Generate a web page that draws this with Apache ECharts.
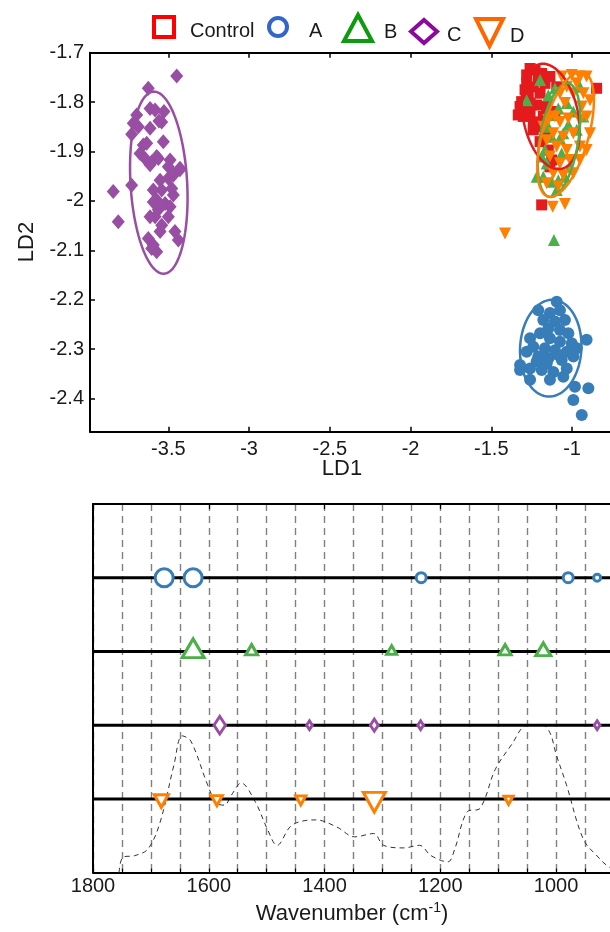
<!DOCTYPE html>
<html>
<head>
<meta charset="utf-8">
<script src="https://cdn.jsdelivr.net/npm/echarts@6/dist/echarts.min.js"></script>
<style>html,body{margin:0;padding:0;background:#fff}#c{width:610px;height:932px}</style>
</head>
<body>
<div id="c"></div>
<script>
// ---------- DATA: LDA scores (LD1, LD2) ----------
const ldControl = [[-1.260,-1.732],[-1.229,-1.735],[-1.188,-1.742],[-1.137,-1.748],[-1.281,-1.762],[-1.240,-1.769],[-1.168,-1.762],[-1.198,-1.782],[-1.271,-1.786],[-1.312,-1.799],[-1.333,-1.826],[-1.302,-1.829],[-1.260,-1.819],[-1.219,-1.806],[-1.157,-1.809],[-1.322,-1.809],[-1.240,-1.840],[-1.188,-1.850],[-1.157,-1.870],[-1.198,-1.880],[-1.147,-1.897],[-1.126,-1.917],[-0.848,-1.772],[-1.188,-2.008],[-1.281,-1.745],[-1.209,-1.755],[-1.260,-1.802],[-1.178,-1.829],[-1.106,-1.819],[-1.095,-1.769],[-1.240,-1.856],[-1.137,-1.931],[-1.291,-1.775]];
const ldA = [[-1.095,-2.204],[-1.209,-2.221],[-1.137,-2.227],[-1.075,-2.221],[-1.178,-2.241],[-1.106,-2.244],[-1.044,-2.241],[-1.147,-2.258],[-1.075,-2.261],[-1.023,-2.268],[-1.198,-2.268],[-1.260,-2.278],[-1.137,-2.278],[-1.075,-2.285],[-1.002,-2.288],[-0.910,-2.281],[-1.240,-2.295],[-1.168,-2.298],[-1.106,-2.302],[-1.033,-2.305],[-1.209,-2.315],[-1.147,-2.319],[-1.064,-2.322],[-0.992,-2.315],[-1.322,-2.342],[-1.260,-2.339],[-1.188,-2.342],[-1.116,-2.346],[-1.260,-2.362],[-1.137,-2.362],[-1.054,-2.356],[-0.982,-2.376],[-0.899,-2.379],[-0.992,-2.403],[-0.940,-2.433],[-1.281,-2.305],[-1.157,-2.329],[-1.085,-2.312],[-1.033,-2.339],[-1.219,-2.325],[-0.971,-2.298],[-1.322,-2.332]];
const ldB = [[-1.281,-1.796],[-1.147,-1.786],[-1.106,-1.772],[-1.085,-1.813],[-1.106,-1.826],[-1.033,-1.802],[-0.992,-1.819],[-1.023,-1.846],[-1.054,-1.863],[-1.075,-1.873],[-1.126,-1.870],[-1.168,-1.897],[-1.188,-1.910],[-1.157,-1.924],[-1.178,-1.951],[-1.219,-1.951],[-1.085,-1.958],[-1.044,-1.951],[-1.095,-1.978],[-1.013,-1.931],[-1.064,-1.904],[-0.971,-1.856],[-0.951,-1.769],[-1.147,-1.850],[-1.112,-2.079],[-0.930,-1.829],[-1.198,-1.755],[-1.126,-1.961]];
const ldC = [[-3.448,-1.747],[-3.624,-1.772],[-3.613,-1.813],[-3.582,-1.816],[-3.527,-1.819],[-3.696,-1.826],[-3.558,-1.838],[-3.686,-1.850],[-3.613,-1.853],[-3.727,-1.865],[-3.531,-1.880],[-3.634,-1.883],[-3.675,-1.904],[-3.644,-1.914],[-3.603,-1.921],[-3.562,-1.914],[-3.489,-1.917],[-3.500,-1.931],[-3.428,-1.934],[-3.613,-1.927],[-3.841,-1.981],[-3.727,-1.968],[-3.551,-1.958],[-3.500,-1.954],[-3.469,-1.948],[-3.593,-1.978],[-3.541,-1.978],[-3.469,-1.988],[-3.572,-1.998],[-3.520,-2.005],[-3.489,-2.012],[-3.562,-2.018],[-3.582,-2.032],[-3.500,-2.032],[-3.810,-2.042],[-3.613,-2.032],[-3.541,-2.049],[-3.551,-2.062],[-3.459,-2.062],[-3.624,-2.076],[-3.438,-2.079],[-3.593,-2.089],[-3.572,-2.103],[-3.603,-2.096],[-3.541,-1.840],[-3.717,-1.843],[-3.655,-1.887],[-3.572,-1.910],[-3.428,-1.937],[-3.593,-2.002],[-3.479,-1.975]];
const ldD = [[-1.064,-1.748],[-1.002,-1.745],[-0.951,-1.748],[-0.910,-1.748],[-0.971,-1.762],[-1.033,-1.769],[-1.075,-1.782],[-0.992,-1.782],[-0.930,-1.782],[-0.889,-1.796],[-1.044,-1.802],[-1.106,-1.829],[-1.147,-1.836],[-1.075,-1.840],[-1.023,-1.833],[-0.951,-1.836],[-0.910,-1.829],[-1.116,-1.863],[-1.054,-1.870],[-0.992,-1.863],[-1.157,-1.877],[-1.095,-1.890],[-1.033,-1.897],[-0.951,-1.890],[-1.137,-1.910],[-1.075,-1.924],[-1.013,-1.917],[-0.951,-1.917],[-1.116,-1.944],[-1.054,-1.948],[-0.992,-1.944],[-0.910,-1.897],[-1.120,-2.012],[-1.044,-2.006],[-1.415,-2.066],[-1.157,-1.964],[-1.085,-1.971],[-0.889,-1.863],[-1.178,-1.850],[-0.940,-1.809]];

// Confidence ellipses: [centreLD1, centreLD2, axis1 dLD1, axis1 dLD2, axis2 dLD1, axis2 dLD2]
const ellControl = [-1.132,-1.829,-0.066,0.106,0.167,0.011];
const ellA = [-1.132,-2.298,0.010,0.098,0.190,0.000];
const ellB = [-1.081,-1.877,0.058,0.115,0.118,-0.006];
const ellC = [-3.559,-1.963,-0.020,0.184,0.177,-0.010];
const ellD = [-1.040,-1.865,0.109,0.126,0.137,-0.013];

const ld1Ticks = [-3.5,-3,-2.5,-2,-1.5,-1,-0.5];
const ld2Ticks = [-1.7,-1.8,-1.9,-2,-2.1,-2.2,-2.3,-2.4];
const wnLabels = [1800,1600,1400,1200,1000,800];

// ---------- DATA: discriminant bands (wavenumber, relative weight) ----------
const bandsA = [1677,1627,1233,979,929];
const weightA = [3,3,1,1,0.25];
const bandsB = [1627,1526,1284,1088,1022];
const weightB = [4,1.5,1,1.5,2.25];
const bandsC = [1581,1426,1314,1234,929];
const weightC = [2.5,0.5,1.25,0.5,0.5];
const bandsD = [1682,1586,1441,1314,1082];
const weightD = [2,1.25,1,4,0.75];
const rowLevel = {A:8, B:6, C:4, D:2};

// mean spectrum (wavenumber, absorbance a.u.)
const specWn = [1755,1748,1728,1705,1684,1660,1646,1631,1602,1587,1573,1561,1544,1520,1499,1482,1456,1415,1379,1348,1315,1298,1263,1236,1216,1187,1175,1154,1131,1105,1076,1052,1026,1011,1000,982,953,929,907,880];
const specAbs = [0,0.42,0.46,0.64,1.37,2.93,3.71,3.57,2.38,1.89,1.83,2.10,2.43,1.93,1.19,0.74,1.29,1.43,1.24,0.97,1.06,0.74,0.67,0.74,0.46,0.29,0.64,1.64,1.75,2.80,3.49,3.99,4.02,3.81,3.22,2.38,0.91,0.45,0.14,0.02];

// ---------- styles ----------
const FONT = '"Liberation Sans", Arial, sans-serif';
const col = {Control:'#E41A1C', A:'#377EB8', B:'#4DAF4A', C:'#984EA3', D:'#FF7F00'};
const legCol = {Control:'#FF0000', A:'#3366CC', B:'#0E9A0E', C:'#8B0A9B', D:'#FF6600'};
const triDown = 'path://M0,0L20,0L10,20Z';

function ellipseRender(params, api) {
  const cx = api.value(0), cy = api.value(1), ux = api.value(2), uy = api.value(3), vx = api.value(4), vy = api.value(5);
  const pts = [];
  for (let k = 0; k <= 120; k++) {
    const t = k / 120 * 2 * Math.PI;
    pts.push(api.coord([cx + ux * Math.cos(t) + vx * Math.sin(t), cy + uy * Math.cos(t) + vy * Math.sin(t)]));
  }
  return {type:'polyline', shape:{points:pts}, style:{stroke: api.visual('color'), lineWidth:2.5, fill:null}};
}
function ellipseSeries(name, e) {
  return {type:'custom', name:name+' ellipse', xAxisIndex:0, yAxisIndex:0, renderItem: ellipseRender,
    dimensions:['x','y','ux','uy','vx','vy'], encode:{x:0, y:1}, data:[e], itemStyle:{color: col[name]}, z:5, silent:true};
}
function legendComp(name, icon, left, top, w, h, pad) {
  return {show:true, left:left, top:top, padding:0, itemWidth:w, itemHeight:h, symbolKeepAspect:false,
    selectedMode:false, orient:'horizontal',
    formatter: '{t|{name}}',
    textStyle:{fontFamily:FONT, fontSize:20, color:'#1a1a1a',
      rich:{t:{fontFamily:FONT, fontSize:20, color:'#1a1a1a', padding:[8,0,0,pad]}}},
    data:[{name:name, icon:icon, itemStyle:{color:'#ffffff', borderColor:legCol[name], borderWidth:4}}]};
}
function bandSeries(key, bands, weights, symbol, shape) {
  return {type:'scatter', name:'bands '+key, xAxisIndex:2, yAxisIndex:1, z:6,
    data: bands.map((b,i)=>[b, rowLevel[key], weights[i]]),
    symbol: symbol,
    symbolSize: function(v){ const s = 6 + 4*v[2]; return [s*shape[0], s*shape[1]]; },
    symbolOffset: shape[2] ? [0, shape[2]] : [0,0],
    itemStyle:{color:'#ffffff', borderColor: col[key], borderWidth:3, opacity:1}};
}

const axisLineBlack = {show:true, onZero:false, lineStyle:{color:'#000', width:2}};
const plain = v => String(v);

const option = {
  animation:false,
  backgroundColor:'#ffffff',
  legend:[
    legendComp('Control','rect',152,15,20,20,11),
    legendComp('A','circle',267,16,18,18,17),
    legendComp('B','triangle',342,13,28,26,7),
    legendComp('C','diamond',409,18,26,23,5),
    legendComp('D',triDown,474,17,27,27,2)
  ],
  grid:[
    {left:90, top:52.7, width:562.8, height:379, outerBoundsMode:'none', containLabel:false},
    {left:93, top:504, width:578.8, height:368.6, outerBoundsMode:'none', containLabel:false}
  ],
  xAxis:[
    {gridIndex:0, type:'value', min:-3.985, max:-0.5, position:'bottom',
      axisLine:axisLineBlack, splitLine:{show:false},
      axisTick:{show:true, inside:true, length:5, customValues:ld1Ticks, lineStyle:{color:'#000', width:1.5}},
      axisLabel:{show:true, customValues:ld1Ticks.slice(0,6), formatter:plain, margin:8, fontFamily:FONT, fontSize:20, color:'#1a1a1a'}},
    {gridIndex:0, type:'value', min:-3.985, max:-0.5, position:'top',
      axisLine:axisLineBlack, splitLine:{show:false},
      axisTick:{show:true, inside:true, length:5, customValues:ld1Ticks, lineStyle:{color:'#000', width:1.5}},
      axisLabel:{show:false}},
    {gridIndex:1, type:'value', min:800, max:1800, inverse:true, interval:50, position:'bottom',
      axisLine:axisLineBlack,
      splitLine:{show:true, lineStyle:{color:'#808080', width:1.4, type:[7,5]}},
      axisTick:{show:true, inside:true, length:4, lineStyle:{color:'#000', width:1.2}},
      axisLabel:{show:true, customValues:wnLabels, formatter:plain, margin:4, fontFamily:FONT, fontSize:20, color:'#1a1a1a'}},
    {gridIndex:1, type:'value', min:800, max:1800, inverse:true, interval:200, position:'top',
      axisLine:axisLineBlack, splitLine:{show:false},
      axisTick:{show:true, inside:true, length:5, lineStyle:{color:'#000', width:1.2}},
      axisLabel:{show:false}}
  ],
  yAxis:[
    {gridIndex:0, type:'value', min:-2.467, max:-1.7,
      axisLine:axisLineBlack, splitLine:{show:false},
      axisTick:{show:true, inside:true, length:5, customValues:ld2Ticks, lineStyle:{color:'#000', width:1.5}},
      axisLabel:{show:true, customValues:ld2Ticks, formatter:plain, margin:6, fontFamily:FONT, fontSize:20, color:'#1a1a1a'}},
    {gridIndex:1, type:'value', min:0, max:10,
      axisLine:axisLineBlack, splitLine:{show:false}, axisTick:{show:false}, axisLabel:{show:false}}
  ],
  graphic:[
    {type:'text', x:27, y:242, rotation:Math.PI/2, z:10,
      style:{text:'LD2', font:'22px "Liberation Sans", Arial, sans-serif', fill:'#1a1a1a', align:'center', verticalAlign:'middle'}},
    {type:'text', x:342, y:469, z:10,
      style:{text:'LD1', font:'22px "Liberation Sans", Arial, sans-serif', fill:'#1a1a1a', align:'center', verticalAlign:'middle'}},
    {type:'text', x:352, y:914, z:10,
      style:{text:'Wavenumber (cm{sup|-1})', font:'22px "Liberation Sans", Arial, sans-serif', fill:'#1a1a1a', align:'center', verticalAlign:'middle',
        rich:{sup:{fontSize:14, fontFamily:FONT, fill:'#1a1a1a', verticalAlign:'top', padding:[0,0,12,0]}}}}
  ],
  series:[
    {type:'scatter', name:'Control', xAxisIndex:0, yAxisIndex:0, data:ldControl, symbol:'rect', symbolSize:11, itemStyle:{color:col.Control, opacity:1}, z:2},
    {type:'scatter', name:'A', xAxisIndex:0, yAxisIndex:0, data:ldA, symbol:'circle', symbolSize:12, itemStyle:{color:col.A, opacity:1}, z:2},
    {type:'scatter', name:'B', xAxisIndex:0, yAxisIndex:0, data:ldB, symbol:'triangle', symbolSize:12, itemStyle:{color:col.B, opacity:1}, z:3},
    {type:'scatter', name:'C', xAxisIndex:0, yAxisIndex:0, data:ldC, symbol:'diamond', symbolSize:[13,15], itemStyle:{color:col.C, opacity:1}, z:3},
    {type:'scatter', name:'D', xAxisIndex:0, yAxisIndex:0, data:ldD, symbol:triDown, symbolSize:12, itemStyle:{color:col.D, opacity:1}, z:4},
    ellipseSeries('Control', ellControl),
    ellipseSeries('A', ellA),
    ellipseSeries('B', ellB),
    ellipseSeries('C', ellC),
    ellipseSeries('D', ellD),
    {type:'line', name:'spectrum', xAxisIndex:2, yAxisIndex:1, data: specWn.map((w,i)=>[w, specAbs[i]]),
      symbol:'none', smooth:0.35, lineStyle:{color:'#333', width:1, type:[5,4]}, z:2, silent:true},
    ...Object.keys(rowLevel).map(k => ({type:'line', name:'row '+k, xAxisIndex:2, yAxisIndex:1,
      data:[[800, rowLevel[k]],[1800, rowLevel[k]]], symbol:'none', lineStyle:{color:'#000', width:3}, z:3, silent:true})),
    bandSeries('A', bandsA, weightA, 'circle', [1,1,0]),
    bandSeries('B', bandsB, weightB, 'triangle', [1,0.85,'-17%']),
    bandSeries('C', bandsC, weightC, 'diamond', [0.72,1.1,0]),
    bandSeries('D', bandsD, weightD, triDown, [1,0.9,'17%'])
  ]
};
const chart = echarts.init(document.getElementById('c'), null, {renderer:'canvas'});
chart.setOption(option);
</script>
</body>
</html>
